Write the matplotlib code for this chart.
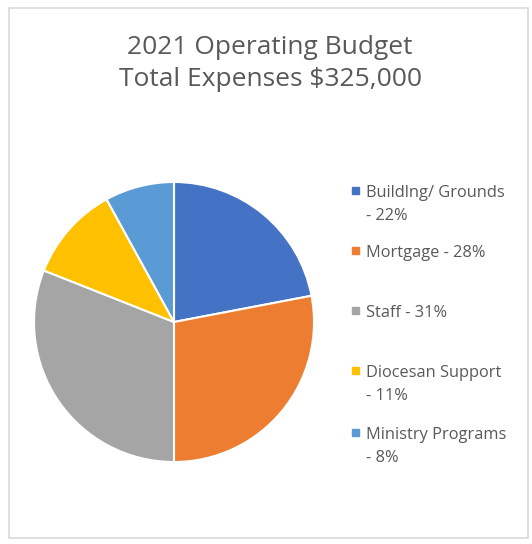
import matplotlib.pyplot as plt
from matplotlib.patches import Rectangle

# --- data ---
categories = ["Buildlng/ Grounds", "Mortgage", "Staff", "Diocesan Support", "Ministry Programs"]
shares = [22, 28, 31, 11, 8]
legend_labels = ["Buildlng/ Grounds\n- 22%", "Mortgage - 28%", "Staff - 31%",
                 "Diocesan Support\n- 11%", "Ministry Programs\n- 8%"]
colors = ["#4472C4", "#ED7D31", "#A5A5A5", "#FFC000", "#5B9BD5"]

W, H = 532, 544
fig = plt.figure(figsize=(W / 100, H / 100), dpi=100)
plt.rcParams['font.family'] = ['Open Sans', 'DejaVu Sans']
TXT = "#595959"

# chart frame
fig.patches.append(Rectangle((9 / W, 1 - 538 / H), 519 / W, 530 / H, transform=fig.transFigure,
                             fill=False, edgecolor="#D9D9D9", linewidth=1.2))

# pie: center ~ (174, 322), radius ~ 140 px
cx, cy, r = 174, 322, 140
ax = fig.add_axes([(cx - r) / W, 1 - (cy + r) / H, 2 * r / W, 2 * r / H])
ax.pie(shares, colors=colors, startangle=90, counterclock=False,
       wedgeprops=dict(edgecolor="white", linewidth=1.5))
ax.set_xlim(-1, 1)
ax.set_ylim(-1, 1)
ax.set_aspect("equal")

fig.text(270 / W, 1 - 47 / H, "2021 Operating Budget", ha="center", va="center",
         fontsize=19, color=TXT)
fig.text(270 / W, 1 - 80 / H, "Total Expenses $325,000", ha="center", va="center",
         fontsize=19, color=TXT)

# legend (marker centres in px from top)
entry_y = [190, 250, 310, 370, 432]
for y, lab, c in zip(entry_y, legend_labels, colors):
    fig.patches.append(Rectangle((352 / W, 1 - (y + 3.5) / H), 7 / W, 7 / H,
                                 transform=fig.transFigure, color=c))
    for i, line in enumerate(lab.split("\n")):
        fig.text(366 / W, 1 - (y + 7 + 23 * i) / H, line, ha="left", va="baseline",
                 fontsize=11.8, color=TXT)

fig.savefig("out.png", dpi=100)
